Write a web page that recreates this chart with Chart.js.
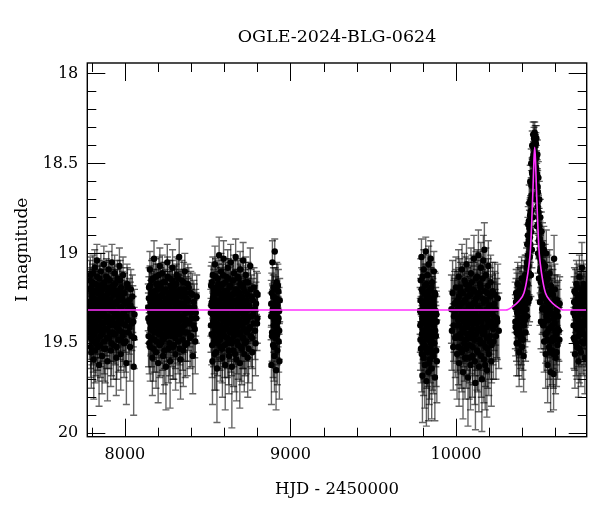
<!DOCTYPE html>
<html lang="en">

<head>
    <meta charset="utf-8">
    <title>OGLE-2024-BLG-0624</title>
    <style>
        body { margin: 0; background: #fff; }
    </style>
</head>

<body>
    <canvas id="myChart" width="600" height="512"></canvas>
    <script type="text/javascript" src="https://cdn.jsdelivr.net/npm/chart.js/dist/chart.umd.min.js"></script>
    <script>
        // photometry, one array per observing season: [HJD-2450000, I mag, error]
        const season1 = [
            [7783,19.35,0.14],[7785,19.20,0.11],[7787,19.41,0.15],[7789,19.33,0.13],[7791,19.12,0.10],[7793,19.47,0.17],[7795,19.27,0.12],[7797,19.55,0.20],[7799,19.23,0.11],[7801,19.36,0.14],
            [7804,19.16,0.10],[7806,19.43,0.16],[7808,19.32,0.13],[7810,19.25,0.12],[7812,19.59,0.22],[7814,19.29,0.12],[7816,19.45,0.16],[7818,19.08,0.10],[7821,19.38,0.14],[7823,19.31,0.13],
            [7825,19.50,0.18],[7827,19.21,0.11],[7829,19.41,0.15],[7831,19.04,0.09],[7834,19.34,0.13],[7836,19.52,0.19],[7838,19.18,0.11],[7840,19.37,0.14],[7842,19.26,0.12],[7844,19.62,0.23],
            [7847,19.14,0.10],[7849,19.42,0.16],[7851,19.30,0.13],[7853,19.46,0.17],[7855,19.10,0.10],[7858,19.39,0.14],[7860,19.23,0.12],[7862,19.57,0.21],[7864,19.28,0.12],[7866,19.44,0.16],
            [7869,19.17,0.11],[7871,19.33,0.13],[7873,19.06,0.10],[7875,19.49,0.18],[7877,19.24,0.12],[7880,19.35,0.14],[7882,19.53,0.19],[7884,19.19,0.11],[7886,19.38,0.14],[7888,19.13,0.10],
            [7891,19.42,0.15],[7893,19.29,0.12],[7895,19.60,0.22],[7897,19.22,0.11],[7900,19.36,0.14],[7902,19.09,0.10],[7904,19.47,0.17],[7906,19.31,0.13],[7909,19.15,0.11],[7911,19.40,0.15],
            [7913,19.26,0.12],[7915,19.54,0.20],[7918,19.20,0.11],[7920,19.37,0.14],[7922,19.05,0.10],[7925,19.44,0.16],[7927,19.32,0.13],[7929,19.18,0.11],[7931,19.51,0.19],[7934,19.28,0.12],
            [7936,19.39,0.15],[7938,19.11,0.10],[7941,19.45,0.17],[7943,19.34,0.13],[7945,19.21,0.12],[7948,19.58,0.21],[7950,19.27,0.12],[7952,19.41,0.15],[7955,19.14,0.10],[7957,19.35,0.14],
            [7960,19.48,0.18],[7962,19.24,0.12],[7965,19.38,0.14],[7967,19.07,0.10],[7970,19.43,0.16],[7972,19.30,0.13],[7975,19.56,0.20],[7977,19.19,0.11],[7980,19.36,0.14],[7983,19.25,0.12],
            [7986,19.46,0.17],[7989,19.12,0.10],[7992,19.33,0.13],[7995,19.50,0.19],[7998,19.22,0.11],[8002,19.40,0.15],[8005,19.28,0.12],[8009,19.61,0.23],[8013,19.17,0.11],[8017,19.37,0.14],
            [8021,19.44,0.16],[8026,19.26,0.12],[8031,19.52,0.19],[8036,19.20,0.11],[8042,19.39,0.15],[8048,19.31,0.13],[8053,19.63,0.27],[8058,19.34,0.14],
            [7784,19.27,0.12],[7786,19.44,0.15],[7788,19.15,0.11],[7790,19.38,0.14],[7792,19.30,0.13],[7794,19.52,0.17],[7796,19.19,0.11],[7798,19.34,0.13],[7800,19.46,0.16],[7803,19.24,0.12],
            [7805,19.33,0.13],[7807,19.11,0.10],[7809,19.49,0.17],[7811,19.36,0.14],[7813,19.21,0.12],[7815,19.40,0.15],[7817,19.28,0.12],[7820,19.54,0.18],[7822,19.17,0.11],[7824,19.31,0.13],
            [7826,19.43,0.15],[7828,19.26,0.12],[7830,19.37,0.14],[7833,19.13,0.10],[7835,19.48,0.17],[7837,19.29,0.13],[7839,19.22,0.12],[7843,19.41,0.15],[7846,19.33,0.13],[7848,19.18,0.11],
            [7852,19.51,0.18],[7854,19.25,0.12],[7857,19.35,0.14],[7859,19.45,0.16],[7863,19.20,0.11],[7865,19.32,0.13],[7868,19.39,0.15],[7872,19.27,0.12],[7874,19.53,0.18],[7878,19.16,0.11],
            [7881,19.42,0.15],[7885,19.30,0.13],[7887,19.24,0.12],[7890,19.47,0.17],[7894,19.35,0.14],[7898,19.14,0.10],[7901,19.38,0.14],[7905,19.26,0.12],[7908,19.44,0.16],[7912,19.31,0.13],
            [7916,19.19,0.11],[7919,19.50,0.18],[7923,19.29,0.12],[7926,19.36,0.14],[7930,19.23,0.12],[7933,19.45,0.16],[7937,19.32,0.13],[7940,19.17,0.11],[7944,19.40,0.15],[7947,19.28,0.12],
            [7951,19.52,0.18],[7954,19.21,0.12],[7958,19.34,0.13],[7961,19.42,0.15],[7964,19.26,0.12],[7968,19.37,0.14],[7971,19.15,0.11],[7974,19.48,0.17],[7978,19.30,0.13],[7982,19.39,0.15],
            [7985,19.22,0.12],[7990,19.44,0.16],[7994,19.33,0.13],[7999,19.27,0.12],[8004,19.49,0.17],[8008,19.35,0.14],[8015,19.19,0.11],[8020,19.31,0.13],[8028,19.41,0.15],[8034,19.29,0.13],
            [8040,19.46,0.16],[8045,19.24,0.12],[8051,19.38,0.14],[8056,19.47,0.17]
        ];
        const season2 = [
            [8141,19.30,0.13],[8143,19.46,0.17],[8146,19.19,0.11],[8148,19.38,0.14],[8151,19.09,0.10],[8153,19.52,0.19],[8156,19.27,0.12],[8158,19.41,0.15],[8161,19.15,0.11],[8163,19.35,0.14],
            [8166,19.58,0.21],[8168,19.23,0.12],[8171,19.43,0.16],[8173,19.31,0.13],[8176,19.03,0.10],[8178,19.48,0.18],[8181,19.26,0.12],[8183,19.37,0.14],[8186,19.13,0.10],[8188,19.55,0.20],
            [8191,19.29,0.12],[8193,19.40,0.15],[8196,19.20,0.11],[8198,19.34,0.13],[8201,19.61,0.22],[8203,19.17,0.11],[8206,19.45,0.16],[8208,19.32,0.13],[8211,19.07,0.10],[8213,19.39,0.15],
            [8216,19.24,0.12],[8218,19.50,0.18],[8221,19.28,0.12],[8223,19.42,0.15],[8226,19.11,0.10],[8228,19.36,0.14],[8231,19.57,0.21],[8233,19.21,0.11],[8236,19.33,0.13],[8238,19.47,0.17],
            [8241,19.16,0.11],[8243,19.38,0.14],[8246,19.25,0.12],[8248,19.63,0.24],[8251,19.30,0.13],[8253,19.44,0.16],[8256,19.05,0.10],[8258,19.35,0.14],[8261,19.22,0.12],[8263,19.53,0.19],
            [8266,19.29,0.12],[8268,19.40,0.15],[8271,19.14,0.10],[8273,19.60,0.26],[8276,19.27,0.12],[8278,19.37,0.14],[8281,19.19,0.11],[8283,19.46,0.17],[8286,19.32,0.13],[8288,19.08,0.10],
            [8291,19.42,0.16],[8293,19.24,0.12],[8296,19.51,0.19],[8298,19.34,0.13],[8301,19.18,0.11],[8303,19.39,0.15],[8306,19.56,0.20],[8308,19.26,0.12],[8311,19.43,0.16],[8313,19.12,0.10],
            [8316,19.36,0.14],[8318,19.29,0.12],[8321,19.49,0.18],[8323,19.21,0.11],[8326,19.38,0.14],[8328,19.02,0.10],[8331,19.45,0.17],[8333,19.31,0.13],[8336,19.59,0.22],[8338,19.23,0.12],
            [8341,19.35,0.14],[8344,19.15,0.11],[8347,19.41,0.15],[8350,19.28,0.12],[8353,19.54,0.20],[8356,19.20,0.11],[8359,19.37,0.14],[8362,19.10,0.10],[8365,19.44,0.16],[8368,19.33,0.13],
            [8372,19.25,0.12],[8376,19.50,0.18],[8380,19.17,0.11],[8384,19.39,0.15],[8388,19.30,0.13],[8393,19.47,0.17],[8398,19.22,0.12],[8404,19.36,0.14],[8410,19.57,0.21],[8416,19.27,0.12],
            [8422,19.42,0.16],[8428,19.33,0.13],[8434,19.24,0.12],
            [8142,19.36,0.14],[8145,19.25,0.12],[8147,19.50,0.17],[8150,19.31,0.13],[8152,19.18,0.11],[8155,19.42,0.15],[8157,19.33,0.13],[8160,19.22,0.12],[8162,19.47,0.16],[8165,19.29,0.12],
            [8167,19.39,0.14],[8170,19.14,0.11],[8172,19.53,0.18],[8175,19.35,0.14],[8177,19.21,0.12],[8180,19.44,0.16],[8182,19.30,0.13],[8185,19.26,0.12],[8187,19.40,0.15],[8190,19.17,0.11],
            [8192,19.49,0.17],[8195,19.34,0.13],[8197,19.24,0.12],[8200,19.43,0.15],[8202,19.31,0.13],[8205,19.12,0.10],[8207,19.38,0.14],[8210,19.51,0.18],[8212,19.27,0.12],[8215,19.36,0.14],
            [8217,19.19,0.11],[8220,19.45,0.16],[8222,19.33,0.13],[8225,19.23,0.12],[8227,19.48,0.17],[8230,19.30,0.13],[8232,19.16,0.11],[8235,19.41,0.15],[8237,19.28,0.12],[8240,19.54,0.19],
            [8242,19.35,0.14],[8245,19.20,0.11],[8247,19.39,0.15],[8250,19.26,0.12],[8252,19.46,0.16],[8255,19.32,0.13],[8257,19.13,0.11],[8260,19.43,0.15],[8262,19.29,0.12],[8265,19.37,0.14],
            [8267,19.22,0.12],[8270,19.50,0.18],[8272,19.34,0.13],[8275,19.18,0.11],[8277,19.44,0.16],[8280,19.31,0.13],[8282,19.25,0.12],[8285,19.40,0.15],[8287,19.15,0.11],[8290,19.52,0.18],
            [8292,19.36,0.14],[8295,19.27,0.12],[8297,19.42,0.15],[8300,19.21,0.12],[8302,19.33,0.13],[8305,19.47,0.17],[8307,19.30,0.13],[8310,19.17,0.11],[8312,19.38,0.14],[8315,19.24,0.12],
            [8317,19.45,0.16],[8320,19.32,0.13],[8322,19.14,0.11],[8325,19.41,0.15],[8327,19.28,0.12],[8330,19.53,0.19],[8332,19.35,0.14],[8335,19.20,0.11],[8340,19.43,0.16],[8343,19.30,0.13],
            [8346,19.24,0.12],[8349,19.48,0.17],[8352,19.36,0.14],[8355,19.16,0.11],[8358,19.40,0.15],[8361,19.28,0.12],[8364,19.51,0.18],[8367,19.22,0.12],[8370,19.37,0.14],[8374,19.31,0.13],
            [8378,19.44,0.16],[8382,19.26,0.12],[8386,19.19,0.11],[8391,19.38,0.14],[8396,19.33,0.13],[8401,19.46,0.17],[8407,19.23,0.12],[8413,19.40,0.15],[8419,19.30,0.13],[8425,19.49,0.18],
            [8431,19.36,0.14]
        ];
        const season3 = [
            [8519,19.33,0.13],[8521,19.18,0.11],[8524,19.45,0.17],[8526,19.27,0.12],[8529,19.60,0.24],[8531,19.12,0.10],[8534,19.38,0.14],[8536,19.23,0.12],[8539,19.49,0.18],[8541,19.31,0.13],
            [8544,19.06,0.10],[8546,19.42,0.16],[8549,19.26,0.12],[8551,19.55,0.21],[8554,19.19,0.11],[8556,19.64,0.30],[8559,19.35,0.14],[8561,19.14,0.10],[8564,19.47,0.17],[8566,19.29,0.12],
            [8569,19.01,0.10],[8571,19.40,0.15],[8574,19.22,0.12],[8576,19.52,0.19],[8579,19.32,0.13],[8581,19.10,0.10],[8584,19.44,0.16],[8586,19.25,0.12],[8589,19.58,0.22],[8591,19.17,0.11],
            [8594,19.37,0.14],[8596,19.03,0.10],[8599,19.46,0.17],[8601,19.30,0.13],[8604,19.21,0.12],[8606,19.62,0.25],[8609,19.34,0.13],[8611,19.13,0.10],[8614,19.41,0.15],[8616,19.27,0.12],
            [8619,19.50,0.19],[8621,19.08,0.10],[8624,19.36,0.14],[8626,19.24,0.12],[8629,19.57,0.21],[8631,19.19,0.11],[8634,19.43,0.16],[8636,19.31,0.13],[8639,19.05,0.10],[8641,19.48,0.18],
            [8644,19.26,0.12],[8646,19.63,0.34],[8649,19.15,0.11],[8651,19.39,0.15],[8654,19.28,0.12],[8656,19.54,0.20],[8659,19.11,0.10],[8661,19.35,0.14],[8664,19.22,0.12],[8666,19.45,0.17],
            [8669,19.02,0.10],[8671,19.32,0.13],[8674,19.59,0.23],[8676,19.20,0.11],[8679,19.41,0.15],[8681,19.29,0.12],[8684,19.51,0.19],[8686,19.14,0.10],[8689,19.37,0.14],[8691,19.25,0.12],
            [8694,19.61,0.25],[8696,19.09,0.10],[8699,19.44,0.16],[8701,19.33,0.13],[8704,19.18,0.11],[8706,19.53,0.20],[8709,19.27,0.12],[8711,19.40,0.15],[8714,19.04,0.10],[8716,19.47,0.17],
            [8719,19.30,0.13],[8721,19.56,0.21],[8724,19.21,0.12],[8727,19.38,0.14],[8730,19.12,0.10],[8733,19.49,0.18],[8736,19.26,0.12],[8739,19.35,0.14],[8742,19.58,0.22],[8745,19.16,0.11],
            [8749,19.42,0.16],[8753,19.31,0.13],[8757,19.07,0.10],[8761,19.46,0.17],[8765,19.24,0.12],[8770,19.55,0.21],[8775,19.34,0.13],[8780,19.19,0.11],[8786,19.43,0.16],[8792,19.28,0.12],
            [8798,19.39,0.15],[8801,19.23,0.12],
            [8520,19.40,0.15],[8522,19.29,0.12],[8525,19.16,0.11],[8527,19.51,0.18],[8530,19.34,0.13],[8532,19.25,0.12],[8535,19.46,0.17],[8537,19.20,0.11],[8540,19.37,0.14],[8542,19.56,0.20],
            [8545,19.30,0.13],[8547,19.13,0.10],[8550,19.43,0.16],[8552,19.27,0.12],[8555,19.39,0.15],[8557,19.22,0.12],[8560,19.50,0.18],[8562,19.33,0.13],[8565,19.17,0.11],[8567,19.44,0.16],
            [8570,19.31,0.13],[8572,19.26,0.12],[8575,19.48,0.17],[8577,19.36,0.14],[8580,19.19,0.11],[8582,19.41,0.15],[8585,19.29,0.12],[8587,19.53,0.19],[8590,19.34,0.13],[8592,19.12,0.10],
            [8595,19.45,0.16],[8597,19.24,0.12],[8600,19.38,0.14],[8602,19.51,0.18],[8605,19.28,0.12],[8607,19.16,0.11],[8610,19.42,0.15],[8612,19.33,0.13],[8615,19.21,0.12],[8617,19.47,0.17],
            [8620,19.30,0.13],[8622,19.39,0.15],[8625,19.14,0.11],[8627,19.54,0.19],[8630,19.35,0.14],[8632,19.25,0.12],[8635,19.44,0.16],[8637,19.18,0.11],[8640,19.37,0.14],[8642,19.29,0.12],
            [8645,19.50,0.18],[8647,19.23,0.12],[8650,19.41,0.15],[8652,19.32,0.13],[8655,19.15,0.11],[8657,19.46,0.17],[8660,19.27,0.12],[8662,19.38,0.14],[8665,19.56,0.21],[8667,19.20,0.11],
            [8670,19.43,0.16],[8672,19.34,0.13],[8675,19.26,0.12],[8677,19.49,0.18],[8680,19.13,0.10],[8682,19.36,0.14],[8685,19.30,0.13],[8687,19.45,0.16],[8690,19.22,0.12],[8692,19.40,0.15],
            [8695,19.33,0.13],[8697,19.17,0.11],[8700,19.52,0.19],[8702,19.28,0.12],[8705,19.39,0.15],[8707,19.24,0.12],[8710,19.47,0.17],[8712,19.31,0.13],[8715,19.19,0.11],[8717,19.42,0.15],
            [8720,19.35,0.14],[8723,19.27,0.12],[8726,19.50,0.18],[8729,19.16,0.11],[8732,19.38,0.14],[8735,19.32,0.13],[8738,19.44,0.16],[8741,19.23,0.12],[8744,19.36,0.14],[8747,19.53,0.19],
            [8751,19.29,0.12],[8755,19.41,0.15],[8759,19.20,0.11],[8763,19.35,0.14],[8768,19.47,0.17],[8773,19.26,0.12],[8778,19.39,0.15],[8783,19.31,0.13],[8789,19.50,0.18],[8795,19.22,0.12],
            [8800,19.36,0.14]
        ];
        const season4 = [
            [8883,19.35,0.13],[8885,19.62,0.22],[8887,19.22,0.11],[8889,19.44,0.16],[8891,19.05,0.12],[8893,19.31,0.13],[8895,19.51,0.18],[8897,19.19,0.11],[8899,19.40,0.15],[8901,19.28,0.12],
            [8903,19.57,0.20],[8905,18.99,0.07],[8907,19.36,0.14],[8909,19.47,0.17],[8911,19.25,0.12],[8913,19.65,0.22],[8915,19.33,0.13],[8917,19.16,0.11],[8919,19.42,0.16],[8921,19.54,0.19],
            [8923,19.29,0.12],[8925,19.38,0.14],[8927,19.21,0.12],[8929,19.49,0.17],[8931,19.32,0.13],[8933,19.60,0.21],[8935,19.26,0.12],
            [8884,19.28,0.13],[8888,19.46,0.17],[8892,19.33,0.13],[8896,19.24,0.12],[8900,19.52,0.19],[8904,19.37,0.14],[8908,19.20,0.12],[8912,19.41,0.15],[8916,19.30,0.13],[8920,19.45,0.17],
            [8924,19.18,0.12],[8928,19.36,0.14],[8932,19.43,0.16]
        ];
        const season5 = [
            [9783,19.32,0.13],[9785,19.48,0.17],[9787,19.15,0.12],[9789,19.39,0.15],[9791,19.02,0.10],[9793,19.56,0.21],[9795,19.27,0.12],[9797,19.68,0.26],[9799,19.21,0.12],[9801,19.43,0.16],
            [9803,19.35,0.14],[9805,19.09,0.11],[9807,19.51,0.19],[9809,19.30,0.13],[9811,19.62,0.24],[9813,19.18,0.12],[9815,19.45,0.17],[9817,18.99,0.08],[9819,19.37,0.14],[9821,19.71,0.25],
            [9823,19.25,0.12],[9825,19.41,0.15],[9827,19.12,0.11],[9829,19.54,0.20],[9831,19.33,0.13],[9833,19.66,0.27],[9835,19.06,0.10],[9837,19.47,0.17],[9839,19.28,0.12],[9841,19.59,0.22],
            [9843,19.20,0.12],[9845,19.38,0.14],[9847,19.03,0.10],[9849,19.50,0.18],[9851,19.31,0.13],[9853,19.64,0.28],[9855,19.16,0.11],[9857,19.44,0.16],[9860,19.26,0.12],[9863,19.57,0.21],
            [9866,19.10,0.11],[9869,19.36,0.14],[9872,19.69,0.24],[9875,19.23,0.12],[9878,19.46,0.17],[9881,19.34,0.13],[9884,19.60,0.23],
            [9784,19.40,0.15],[9786,19.26,0.12],[9788,19.53,0.19],[9790,19.33,0.13],[9792,19.20,0.12],[9794,19.45,0.16],[9796,19.36,0.14],[9798,19.13,0.11],[9800,19.49,0.18],[9802,19.29,0.13],
            [9804,19.58,0.21],[9806,19.38,0.14],[9808,19.22,0.12],[9810,19.43,0.16],[9812,19.31,0.13],[9814,19.52,0.19],[9816,19.27,0.12],[9818,19.46,0.17],[9820,19.17,0.11],[9822,19.35,0.14],
            [9824,19.55,0.20],[9826,19.30,0.13],[9828,19.42,0.16],[9830,19.24,0.12],[9832,19.48,0.18],[9834,19.37,0.14],[9836,19.21,0.12],[9838,19.61,0.23],[9840,19.33,0.13],[9842,19.44,0.16],
            [9844,19.28,0.12],[9846,19.53,0.19],[9848,19.39,0.15],[9850,19.19,0.11],[9852,19.47,0.17],[9854,19.34,0.13],[9856,19.25,0.12],[9858,19.56,0.20],[9862,19.40,0.15],[9865,19.29,0.13],
            [9868,19.50,0.18],[9871,19.22,0.12],[9874,19.43,0.16],[9877,19.32,0.13],[9880,19.54,0.20],[9883,19.38,0.14]
        ];
        const season6 = [
            [9972,19.31,0.19],[9975,19.43,0.22],[9979,19.22,0.18],[9983,19.52,0.24],[9987,19.35,0.20],[9991,19.28,0.18],[9995,19.47,0.22],[9999,19.19,0.17],[10003,19.40,0.21],[10006,19.56,0.25],
            [10009,19.26,0.16],[10012,19.37,0.18],[10015,19.13,0.15],[10018,19.61,0.24],[10021,19.30,0.17],[10024,19.45,0.20],[10027,19.21,0.16],[10030,19.53,0.22],[10033,19.34,0.17],[10036,19.09,0.14],
            [10039,19.42,0.19],[10042,19.66,0.26],[10045,19.27,0.16],[10048,19.38,0.18],[10051,19.15,0.15],[10054,19.58,0.23],[10057,19.32,0.17],[10060,19.48,0.20],[10063,19.06,0.14],[10066,19.41,0.19],
            [10069,19.24,0.16],[10072,19.69,0.27],[10075,19.35,0.17],[10078,19.18,0.15],[10081,19.51,0.21],[10084,19.29,0.16],[10087,19.62,0.25],[10090,19.11,0.14],[10093,19.44,0.19],[10096,19.33,0.17],
            [10099,19.57,0.23],[10102,19.20,0.15],[10105,19.39,0.18],[10108,19.03,0.13],[10111,19.48,0.20],[10114,19.27,0.16],[10117,19.72,0.26],[10120,19.14,0.15],[10123,19.36,0.17],[10126,19.54,0.22],
            [10129,19.23,0.16],[10132,19.42,0.19],[10135,19.01,0.14],[10138,19.63,0.25],[10141,19.31,0.17],[10144,19.17,0.15],[10147,19.50,0.21],[10150,19.08,0.14],[10153,19.38,0.18],[10156,19.70,0.29],
            [10159,19.25,0.16],[10162,19.45,0.20],[10165,19.04,0.14],[10168,19.59,0.24],[10171,18.98,0.15],[10174,19.34,0.17],[10177,19.52,0.22],[10180,19.12,0.15],[10183,19.41,0.19],[10186,19.65,0.26],
            [10189,19.22,0.16],[10192,19.37,0.18],[10195,19.07,0.14],[10198,19.56,0.23],[10201,19.29,0.16],[10205,19.46,0.20],[10209,19.16,0.15],[10213,19.60,0.25],[10217,19.33,0.17],[10221,19.21,0.16],
            [10226,19.49,0.21],[10231,19.28,0.18],[10236,19.40,0.20],[10241,19.46,0.24],[10246,19.36,0.22],[10252,19.25,0.19],[10258,19.43,0.21],
            [9985,19.40,0.20],[9993,19.33,0.19],[10001,19.27,0.18],[10008,19.46,0.20],[10011,19.31,0.17],[10014,19.52,0.21],[10017,19.24,0.16],[10020,19.40,0.18],[10023,19.19,0.16],[10026,19.35,0.17],
            [10029,19.47,0.20],[10032,19.28,0.16],[10035,19.55,0.22],[10038,19.33,0.17],[10041,19.22,0.16],[10044,19.44,0.19],[10047,19.36,0.18],[10050,19.50,0.21],[10053,19.26,0.16],[10056,19.41,0.19],
            [10059,19.17,0.15],[10062,19.53,0.22],[10065,19.34,0.17],[10068,19.45,0.20],[10071,19.20,0.15],[10074,19.39,0.18],[10077,19.29,0.16],[10080,19.58,0.23],[10083,19.37,0.18],[10086,19.23,0.16],
            [10089,19.47,0.20],[10092,19.31,0.17],[10095,19.16,0.15],[10098,19.42,0.19],[10101,19.52,0.21],[10104,19.28,0.16],[10107,19.36,0.18],[10110,19.21,0.16],[10113,19.60,0.24],[10116,19.33,0.17],
            [10119,19.45,0.20],[10122,19.25,0.16],[10125,19.39,0.18],[10128,19.13,0.15],[10131,19.55,0.22],[10134,19.30,0.17],[10137,19.43,0.19],[10140,19.22,0.16],[10143,19.48,0.20],[10146,19.35,0.17],
            [10149,19.19,0.15],[10152,19.57,0.23],[10155,19.32,0.17],[10158,19.41,0.19],[10161,19.14,0.15],[10164,19.50,0.21],[10167,19.27,0.16],[10170,19.44,0.19],[10173,19.21,0.16],[10176,19.62,0.25],
            [10179,19.36,0.18],[10182,19.26,0.16],[10185,19.47,0.20],[10188,19.31,0.17],[10191,19.53,0.22],[10194,19.18,0.15],[10197,19.40,0.19],[10200,19.34,0.17],[10203,19.49,0.21],[10207,19.24,0.16],
            [10211,19.38,0.18],[10215,19.51,0.21],[10219,19.29,0.17],[10224,19.42,0.20],[10229,19.35,0.19],[10234,19.23,0.18],[10239,19.31,0.20],[10249,19.38,0.21]
        ];
        const season7 = [
            [10357,19.30,0.14],[10360,19.41,0.16],[10363,19.22,0.13],[10366,19.50,0.18],[10369,19.33,0.14],[10372,19.17,0.12],[10375,19.45,0.17],[10378,19.28,0.13],[10381,19.55,0.19],[10384,19.36,0.15],
            [10387,19.20,0.12],[10390,19.47,0.17],[10393,19.31,0.14],[10396,19.14,0.12],[10399,19.52,0.18],[10402,19.26,0.13],[10405,19.39,0.15],[10408,19.57,0.20],[10411,19.19,0.12],[10414,19.34,0.14],
            [10417,19.12,0.11],[10420,19.44,0.16],[10423,19.24,0.13],[10426,19.08,0.11],[10429,19.35,0.14],[10430,18.95,0.11],[10432,19.17,0.12],[10435,19.01,0.11],[10436,18.84,0.10],[10437,19.27,0.13],
            [10439,18.93,0.10],[10441,19.11,0.12],[10442,18.72,0.10],[10443,18.86,0.10],[10444,19.25,0.13],[10445,19.02,0.11],[10447,18.79,0.09],[10448,18.60,0.09],[10449,18.95,0.10],[10451,18.70,0.09],
            [10452,19.12,0.12],[10453,18.88,0.10],[10454,18.50,0.08],[10455,18.62,0.08],[10457,18.76,0.09],[10458,18.98,0.10],[10459,18.55,0.08],[10460,18.40,0.08],[10461,18.68,0.08],[10463,18.47,0.07],
            [10464,18.80,0.09],[10465,18.58,0.08],[10466,18.34,0.07],[10467,18.41,0.07],[10469,18.50,0.07],[10470,18.62,0.08],[10471,18.36,0.06],[10473,18.44,0.07],[10475,18.33,0.06],[10476,18.40,0.06],
            [10477,18.55,0.08],[10478,18.35,0.06],[10480,18.45,0.07],[10482,18.39,0.06],[10483,18.70,0.09],[10484,18.53,0.07],[10485,18.36,0.07],[10486,18.47,0.07],[10488,18.63,0.08],[10489,18.85,0.10],
            [10490,18.56,0.08],[10491,18.45,0.08],[10492,18.74,0.09],[10494,18.66,0.08],[10495,19.00,0.11],[10496,18.84,0.09],[10497,18.58,0.09],[10498,18.77,0.09],[10500,18.93,0.10],[10501,19.14,0.12],
            [10502,18.85,0.10],[10503,18.70,0.10],[10504,19.02,0.11],[10506,18.92,0.10],[10507,19.27,0.13],[10508,19.10,0.12],[10509,18.80,0.10],[10510,18.98,0.11],[10512,19.16,0.12],[10513,19.38,0.15],
            [10514,19.05,0.11],[10515,18.88,0.11],[10516,19.24,0.13],[10518,19.09,0.12],[10520,19.31,0.14],[10522,18.95,0.12],[10523,19.14,0.12],[10526,19.40,0.15],[10529,19.19,0.13],[10530,18.98,0.13],
            [10532,19.49,0.17],[10535,19.25,0.13],[10538,19.07,0.12],[10541,19.56,0.19],[10544,19.32,0.14],[10545,19.00,0.13],[10547,19.15,0.13],[10550,19.44,0.16],[10553,19.62,0.21],[10556,19.23,0.13],
            [10559,19.37,0.15],[10562,19.52,0.18],[10565,19.11,0.13],[10568,19.29,0.14],[10571,19.66,0.22],[10574,19.41,0.16],[10577,19.20,0.13],[10580,19.54,0.19],[10583,19.34,0.15],[10586,19.47,0.17],
            [10589,19.67,0.20],[10592,19.03,0.13],[10595,19.39,0.15],[10598,19.26,0.14],[10601,19.58,0.20],[10605,19.45,0.17],[10609,19.31,0.15],[10613,19.51,0.19],[10617,19.35,0.15],[10621,19.43,0.17],
            [10626,19.28,0.15],
            [10358,19.38,0.15],[10362,19.27,0.13],[10365,19.44,0.16],[10368,19.24,0.13],[10371,19.39,0.15],[10374,19.31,0.14],[10377,19.50,0.18],[10380,19.21,0.13],[10383,19.42,0.16],[10386,19.29,0.14],
            [10389,19.36,0.15],[10392,19.19,0.12],[10395,19.45,0.17],[10398,19.32,0.14],[10401,19.23,0.13],[10404,19.48,0.17],[10407,19.30,0.14],[10410,19.40,0.15],[10413,19.16,0.12],[10416,19.37,0.15],
            [10419,19.28,0.13],[10422,19.13,0.12],[10425,19.31,0.14],[10428,19.05,0.11],[10431,19.22,0.13],[10434,18.90,0.10],[10438,19.07,0.11],[10440,18.82,0.10],[10446,18.91,0.10],[10450,18.77,0.09],
            [10456,18.68,0.09],[10462,18.56,0.08],[10468,18.45,0.07],[10472,18.39,0.06],[10474,18.48,0.07],[10479,18.40,0.06],[10481,18.52,0.07],[10487,18.58,0.08],[10493,18.63,0.09],[10499,18.80,0.10],
            [10505,18.87,0.10],[10511,19.08,0.11],[10517,19.00,0.12],[10521,19.20,0.13],[10524,19.05,0.12],[10527,19.30,0.14],[10531,19.12,0.13],[10534,19.38,0.15],[10537,19.21,0.13],[10540,19.45,0.16],
            [10543,19.18,0.13],[10546,19.35,0.15],[10549,19.27,0.14],[10552,19.48,0.17],[10555,19.14,0.13],[10558,19.30,0.14],[10561,19.42,0.16],[10564,19.22,0.13],[10567,19.55,0.19],[10570,19.33,0.15],
            [10573,19.18,0.13],[10576,19.49,0.18],[10579,19.28,0.14],[10582,19.40,0.16],[10585,19.23,0.14],[10588,19.56,0.19],[10591,19.36,0.15],[10594,19.48,0.17],[10597,19.20,0.14],[10600,19.43,0.16],
            [10603,19.33,0.15],[10607,19.55,0.19],[10611,19.26,0.14],[10615,19.42,0.17],[10619,19.30,0.15],[10624,19.48,0.18]
        ];
        const season8 = [
            [10709,19.33,0.14],[10712,19.47,0.17],[10715,19.21,0.13],[10718,19.56,0.19],[10721,19.30,0.14],[10724,19.41,0.16],[10727,19.17,0.13],[10730,19.52,0.18],[10733,19.36,0.15],[10736,19.25,0.14],
            [10739,19.60,0.20],[10742,19.39,0.15],[10745,19.13,0.12],[10748,19.45,0.17],[10751,19.28,0.14],[10754,19.55,0.19],[10757,19.20,0.13],[10760,19.08,0.14],[10763,19.43,0.16],[10766,19.32,0.14],
            [10769,19.50,0.18],[10772,19.24,0.13],[10775,19.38,0.15],[10778,19.58,0.20],[10781,19.27,0.14],[10784,19.46,0.17],[10787,19.19,0.13],
            [10710,19.40,0.15],[10713,19.27,0.14],[10716,19.48,0.17],[10719,19.35,0.15],[10722,19.22,0.13],[10725,19.50,0.18],[10728,19.31,0.14],[10731,19.42,0.16],[10734,19.19,0.13],[10737,19.37,0.15],
            [10740,19.46,0.17],[10743,19.28,0.14],[10746,19.53,0.19],[10749,19.34,0.15],[10752,19.23,0.13],[10755,19.41,0.16],[10758,19.30,0.14],[10761,19.49,0.18],[10764,19.26,0.14],[10767,19.38,0.15],
            [10770,19.17,0.13],[10773,19.45,0.17],[10776,19.33,0.15],[10779,19.21,0.13],[10782,19.40,0.16],[10785,19.35,0.15],[10788,19.48,0.17]
        ];

        // model light curve
        const modelT = [7773, 10300, 10350, 10380, 10410, 10425, 10441, 10450, 10459, 10465, 10470, 10475,
            10480, 10485, 10491, 10500, 10509, 10525, 10540, 10570, 10600, 10650, 10789];
        const modelM = [19.315, 19.315, 19.29, 19.265, 19.22, 19.16, 19.06, 18.97, 18.78, 18.63, 18.49, 18.41,
            18.49, 18.63, 18.78, 18.97, 19.06, 19.16, 19.22, 19.265, 19.29, 19.315, 19.315];

        // axes
        const xLabels = [8000, 9000, 10000];
        const yLabels = [18, 18.5, 19, 19.5, 20];
        const xMin = 7773, xMax = 10789, xStep = 200;
        const yMin = 17.942, yMax = 20.019, yStep = 0.1;

        const points = [season1, season2, season3, season4, season5, season6, season7, season8].flat();

        const serif = 'DejaVu Serif';

        // vertical error bars with caps, drawn just before the points
        const errorBars = {
            id: 'errorBars',
            beforeDatasetDraw(chart, args) {
                const ds = chart.data.datasets[args.index];
                if (!ds.errors) return;
                const { ctx, chartArea: a } = chart;
                const y = chart.scales.y;
                ctx.save();
                ctx.beginPath();
                ctx.rect(a.left, a.top, a.width, a.height);
                ctx.clip();
                ctx.strokeStyle = 'rgba(0,0,0,0.6)';
                ctx.lineWidth = 1.4;
                args.meta.data.forEach((pt, i) => {
                    const m = ds.data[i].y, e = ds.errors[i];
                    const y1 = y.getPixelForValue(m - e);
                    const y2 = y.getPixelForValue(m + e);
                    ctx.beginPath();
                    ctx.moveTo(pt.x, y1); ctx.lineTo(pt.x, y2);
                    ctx.moveTo(pt.x - 3.5, y1); ctx.lineTo(pt.x + 3.5, y1);
                    ctx.moveTo(pt.x - 3.5, y2); ctx.lineTo(pt.x + 3.5, y2);
                    ctx.stroke();
                });
                ctx.restore();
            }
        };

        // box with inward ticks on all four sides
        const frame = {
            id: 'frame',
            afterDatasetsDraw(chart) {
                const { ctx, chartArea: a, scales: { x, y } } = chart;
                ctx.save();
                ctx.strokeStyle = '#000';
                ctx.lineWidth = 1;
                ctx.beginPath();
                x.ticks.forEach(t => {
                    if (t.value < xMin || t.value > xMax) return;
                    const px = Math.round(x.getPixelForValue(t.value)) + 0.5;
                    const len = xLabels.includes(t.value) ? 18 : 9;
                    ctx.moveTo(px, a.bottom); ctx.lineTo(px, a.bottom - len);
                    ctx.moveTo(px, a.top); ctx.lineTo(px, a.top + len);
                });
                y.ticks.forEach(t => {
                    if (t.value < yMin || t.value > yMax) return;
                    const py = Math.round(y.getPixelForValue(t.value)) + 0.5;
                    const len = yLabels.includes(t.value) ? 18 : 9;
                    ctx.moveTo(a.left, py); ctx.lineTo(a.left + len, py);
                    ctx.moveTo(a.right, py); ctx.lineTo(a.right - len, py);
                });
                ctx.stroke();
                ctx.lineWidth = 1.4;
                ctx.strokeRect(a.left, a.top, a.width, a.height);
                ctx.restore();
            }
        };

        const data = {
            datasets: [{
                type: 'line',
                label: 'model',
                data: modelT.map((t, i) => ({ x: t, y: modelM[i] })),
                borderColor: '#ff33ff',
                borderWidth: 1.6,
                pointRadius: 0,
                cubicInterpolationMode: 'monotone',
                fill: false
            }, {
                type: 'scatter',
                label: 'OGLE',
                data: points.map(p => ({ x: p[0], y: p[1] })),
                errors: points.map(p => p[2]),
                backgroundColor: '#000',
                borderWidth: 0,
                pointRadius: 3.2
            }]
        };

        const config = {
            type: 'scatter',
            data,
            options: {
                responsive: false,
                animation: false,
                layout: { padding: { left: 0, right: 13.3, top: 0, bottom: 0 } },
                plugins: {
                    legend: { display: false },
                    tooltip: { enabled: false },
                    title: {
                        display: true,
                        fullSize: false,
                        text: 'OGLE-2024-BLG-0624',
                        color: '#000',
                        font: { family: serif, size: 17.5, weight: 'normal' },
                        padding: { top: 27, bottom: 15 }
                    }
                },
                scales: {
                    x: {
                        type: 'linear',
                        min: xMin,
                        max: xMax,
                        afterBuildTicks: (s) => {
                            const ticks = [];
                            for (let v = Math.ceil(xMin / xStep) * xStep; v <= xMax; v += xStep) ticks.push({ value: v });
                            s.ticks = ticks;
                        },
                        afterFit: (s) => { s.height = 75.3; },
                        grid: { display: false, drawTicks: false },
                        border: { display: false },
                        ticks: {
                            autoSkip: false,
                            maxRotation: 0,
                            padding: 9,
                            color: '#000',
                            font: { family: serif, size: 16 },
                            callback: (v) => xLabels.includes(v) ? String(v) : ''
                        },
                        title: {
                            display: true,
                            text: 'HJD - 2450000',
                            color: '#000',
                            font: { family: serif, size: 16.5 },
                            padding: { top: 0, bottom: 12 }
                        }
                    },
                    y: {
                        reverse: true,
                        min: yMin,
                        max: yMax,
                        afterBuildTicks: (s) => {
                            const ticks = [];
                            for (let k = Math.ceil(yMin / yStep); k * yStep <= yMax; k++) ticks.push({ value: Math.round(k * yStep * 10) / 10 });
                            s.ticks = ticks;
                        },
                        afterFit: (s) => { s.width = 87.3; },
                        grid: { display: false, drawTicks: false },
                        border: { display: false },
                        ticks: {
                            autoSkip: false,
                            padding: 9,
                            color: '#000',
                            font: { family: serif, size: 16 },
                            callback: (v) => yLabels.includes(v) ? String(v) : ''
                        },
                        title: {
                            display: true,
                            text: 'I magnitude',
                            color: '#000',
                            font: { family: serif, size: 17 },
                            padding: { top: 12, bottom: 0 }
                        }
                    }
                }
            },
            plugins: [errorBars, frame]
        };

        const myChart = new Chart(
            document.getElementById('myChart'),
            config
        );
    </script>
</body>

</html>
